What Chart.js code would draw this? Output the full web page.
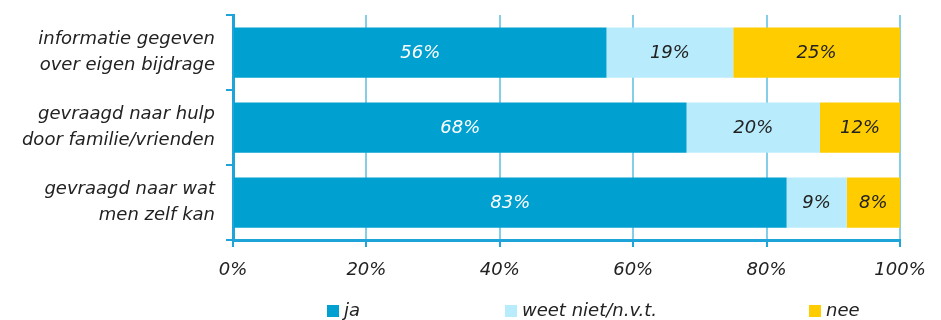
<!DOCTYPE html>
<html><head><meta charset="utf-8">
<script src="https://cdn.jsdelivr.net/npm/chart.js@4.4.1/dist/chart.umd.min.js"></script>
<style>html,body{margin:0;padding:0;background:#fff}#wrap{width:941px;height:320px;position:relative}</style>
</head><body><div id="wrap"><canvas id="c"></canvas></div>
<script>
const categories = [["informatie gegeven","over eigen bijdrage"],["gevraagd naar hulp","door familie/vrienden"],["gevraagd naar wat","men zelf kan"]];
const seriesNames = ["ja","weet niet/n.v.t.","nee"];
const ja = [56,68,83];
const weetNiet = [19,20,9];
const nee = [25,12,8];
const xTicks = [0,20,40,60,80,100];

const FONT = "'DejaVu Sans', sans-serif";
const colors = ["#00A0D0","#B8ECFC","#FFCC00"];
const labelColors = ["#ffffff","#222222","#222222"];
const AXIS = "#1EA4D8";

const valueLabels = {
  id:'valueLabels',
  afterDatasetsDraw(chart){
    const ctx = chart.ctx;
    ctx.save();
    ctx.font = "italic 18px " + FONT;
    ctx.textAlign='center'; ctx.textBaseline='middle';
    chart.data.datasets.forEach((ds,i)=>{
      const meta = chart.getDatasetMeta(i);
      meta.data.forEach((bar,j)=>{
        const v = ds.data[j];
        const cx = (bar.x + bar.base)/2;
        ctx.fillStyle = labelColors[i];
        ctx.fillText(v+'%', cx, bar.y+1);
      });
    });
    ctx.restore();
  }
};

const customLegend = {
  id:'customLegend',
  afterDraw(chart, args, opts){
    const ctx = chart.ctx;
    ctx.save();
    ctx.font = "italic 18px " + FONT;
    ctx.textBaseline='middle'; ctx.textAlign='left';
    chart.data.datasets.forEach((ds,i)=>{
      const x = opts.xs[i];
      ctx.fillStyle = ds.backgroundColor;
      ctx.fillRect(x, opts.y-6, 12, 12);
      ctx.fillStyle = '#222';
      ctx.fillText(ds.label, x+17, opts.y);
    });
    ctx.restore();
  }
};

new Chart(document.getElementById('c'),{
  type:'bar',
  data:{labels:categories,datasets:[
    {label:seriesNames[0],data:ja,backgroundColor:colors[0]},
    {label:seriesNames[1],data:weetNiet,backgroundColor:colors[1]},
    {label:seriesNames[2],data:nee,backgroundColor:colors[2]}
  ]},
  options:{
    indexAxis:'y',responsive:true,maintainAspectRatio:false,animation:false,
    layout:{padding:{top:15,right:41,left:0,bottom:40}},
    datasets:{bar:{categoryPercentage:0.67,barPercentage:1,borderWidth:0}},
    plugins:{
      tooltip:{enabled:false},
      legend:{display:false},
      customLegend:{xs:[327,505,809],y:311}
    },
    scales:{
      x:{stacked:true,min:0,max:100,
        afterBuildTicks(s){s.ticks = xTicks.map(v=>({value:v}));},
        afterFit(s){s.height=40;s.paddingLeft=0;s.paddingRight=0;},
        ticks:{callback:v=>v+'%',color:'#222',padding:13,font:{family:FONT,size:18,style:'italic'}},
        grid:{color:'#86CDE8',lineWidth:2,tickLength:7,tickColor:AXIS},
        border:{color:AXIS,width:3}
      },
      y:{stacked:true,
        afterFit(s){s.width=233;s.paddingTop=0;s.paddingBottom=0;},
        ticks:{color:'#222',padding:11,autoSkip:false,font:{family:FONT,size:18,style:'italic',lineHeight:1.45}},
        grid:{drawOnChartArea:false,tickLength:7,color:AXIS,lineWidth:2},
        border:{color:AXIS,width:3}
      }
    }
  },
  plugins:[valueLabels,customLegend]
});
</script></body></html>
